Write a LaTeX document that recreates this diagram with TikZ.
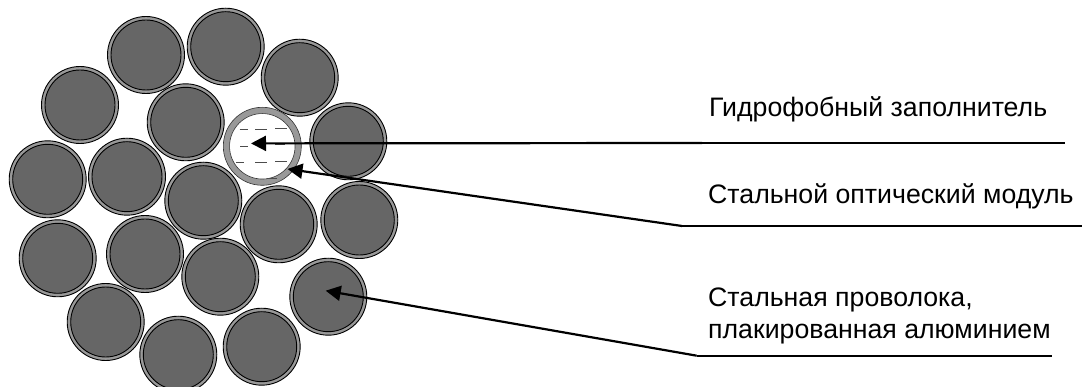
\documentclass[tikz,border=0pt]{standalone}
\usepackage{fontspec}
\setmainfont{Liberation Sans}
\usetikzlibrary{arrows.meta}
\definecolor{ring}{HTML}{999999}
\definecolor{core}{HTML}{666666}
\tikzset{
  x=1pt,y=-1pt,
  wireouter/.style={circle,draw=black,line width=0.9pt,fill=ring,minimum size=77pt,inner sep=0pt,outer sep=0pt},
  wirecore/.style={circle,draw=black,line width=0.9pt,fill=core,minimum size=70pt,inner sep=0pt,outer sep=0pt},
  moduleouter/.style={circle,draw=black!80,line width=0.6pt,fill=ring,minimum size=78pt,inner sep=0pt,outer sep=0pt},
  modulecore/.style={circle,draw=black!80,line width=0.6pt,fill=white,minimum size=65.5pt,inner sep=0pt,outer sep=0pt},
  lbl/.style={anchor=base west,inner sep=0pt,font=\fontsize{26.7pt}{30pt}\selectfont,text=black},
  gel/.style={line width=0.8pt,black!70},
  leader/.style={line width=2.2pt,black},
  pointer/.style={leader,{Triangle[length=15pt,width=15pt]}-},
}
\begin{document}
\begin{tikzpicture}
\useasboundingbox (0,0) rectangle (1082,387);
\clip (0,0) rectangle (1082,387);
\foreach \n/\cx/\cy in {
 1/146/55, 2/225.7/46.7, 3/299.7/77.7, 4/80/105, 5/185.7/122.3,
 6/348.3/141.3, 7/47.7/179.3, 8/127/176.7, 9/203.3/200.7, 10/278.7/224.3,
 11/359.3/220, 12/57.7/258.3, 13/145/254, 14/220.3/276.7, 15/328.3/296.7,
 16/105.7/322, 17/178.3/354.7, 18/261.7/346.7}{
  \node[wireouter] (w\n) at (\cx,\cy) {};
  \node[wirecore] (k\n) at (\cx,\cy) {};
}
\node[moduleouter] (mod) at (262.3,146.3) {};
\node[modulecore] (modc) at (262.3,146.3) {};
\foreach \xa/\xb/\yy in {239.5/248/129.5, 255/266.5/129, 275/286.5/128.5,
  240/248/146.3, 275/285/144.3, 236/244/162.7, 255/267/162, 275/287/161.3, 267/277/178}{
  \draw[gel] (\xa,\yy) -- (\xb,\yy);
}
\coordinate (t1) at (251,143.4);
\coordinate (b1) at (702,143);
\coordinate (e1) at (1065,143);
\coordinate (t2) at (287.5,169);
\coordinate (b2) at (682,226);
\coordinate (e2) at (1082,226);
\coordinate (t3) at (325.7,290.7);
\coordinate (b3) at (696.7,355.7);
\coordinate (e3) at (1052,355.7);
\draw[pointer] (t1) -- (b1);
\draw[leader] (b1) -- (e1);
\draw[pointer] (t2) -- (b2);
\draw[leader] (b2) -- (e2);
\draw[pointer] (t3) -- (b3);
\draw[leader] (b3) -- (e3);
\node[lbl] (l1) at (709,116.7) {Гидрофобный заполнитель};
\node[lbl] (l2) at (708,203.3) {Стальной оптический модуль};
\node[lbl] (l3) at (708,306.7) {Стальная проволока,};
\node[lbl] (l4) at (708,338.5) {плакированная алюминием};
\end{tikzpicture}
\end{document}
